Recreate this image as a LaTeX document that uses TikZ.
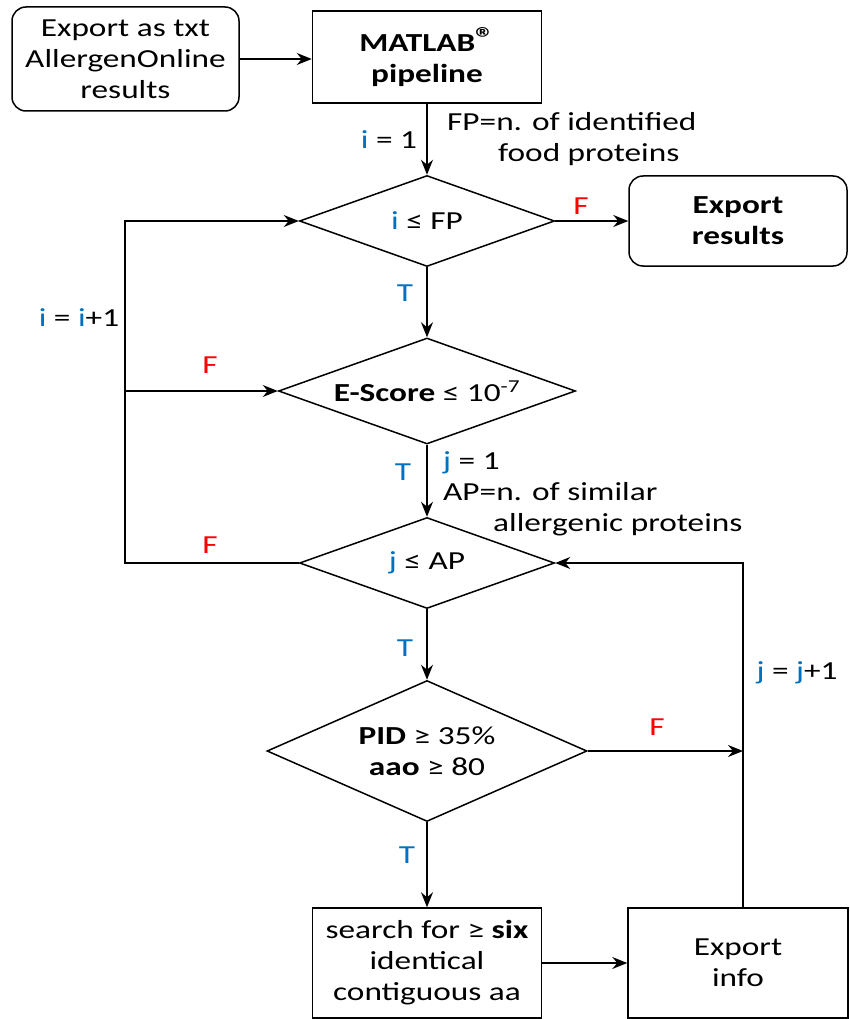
\documentclass[tikz,border=0pt]{standalone}
\usepackage{fontspec}
\setmainfont{Carlito}[FakeStretch=1.28]
\usetikzlibrary{shapes.geometric,arrows.meta}
\definecolor{ivar}{HTML}{0070C0}
\definecolor{fred}{HTML}{FF0000}
\newcommand{\regmark}{\raisebox{3pt}{\fontsize{30}{30}\selectfont ®}}
\begin{document}
\begin{tikzpicture}[x=1pt,y=-1pt,
    every node/.style={font=\fontsize{26}{31}\selectfont,inner sep=0pt},
    proc/.style={draw,rectangle,align=center,line width=1.5pt},
    term/.style={proc,rounded corners=14pt},
    decision/.style={draw,diamond,aspect=2.6,align=center,line width=1.5pt},
    flow/.style={line width=1.5pt,-{Stealth[length=15pt,width=12pt,inset=5pt]}},
    tlab/.style={text=ivar},
    flab/.style={text=fred}]
        \useasboundingbox (0,0) rectangle (849,1019);
        \node[term,minimum width=227,minimum height=104] (src) at (125.5,59) {Export as txt\\AllergenOnline\\results};
        \node[proc,minimum width=229,minimum height=92] (matlab) at (427,57) {\textbf{MATLAB\regmark}\\\textbf{pipeline}};
        \node[decision,minimum width=255,minimum height=91] (dfp) at (427,221) {{\color{ivar}i} ≤ FP};
        \node[term,minimum width=218,minimum height=90] (expres) at (738,221) {\textbf{Export}\\\textbf{results}};
        \node[decision,minimum width=297,minimum height=106] (dscore) at (427,391) {\textbf{E-Score} ≤ 10\textsuperscript{-7}};
        \node[decision,minimum width=255,minimum height=91] (dap) at (427,563) {{\color{ivar}j} ≤ AP};
        \node[decision,minimum width=320,minimum height=141] (dpid) at (427,751) {\textbf{PID} ≥ 35\%\\\textbf{aao} ≥ 80};
        \node[proc,minimum width=229,minimum height=110] (search) at (427,963) {search for ≥ \textbf{six}\\identical\\contiguous aa};
        \node[proc,minimum width=220,minimum height=110] (expinfo) at (738,963) {Export\\info};
        \coordinate (ltop) at (125,221);
        \coordinate (lmid) at (125,391);
        \coordinate (lbot) at (125,563);
        \coordinate (rtop) at (743,563);
        \coordinate (rmid) at (743,751);
        \node (inote) at (389,140) {{\color{ivar}i} = 1};
        \node[anchor=west,align=left] (fpnote) at (447,139) {FP=n. of identified\\\hspace*{51pt}food proteins};
        \node[anchor=west,align=left] (jnote) at (443,494) {{\color{ivar}j} = 1\\AP=n. of similar\\\hspace*{50pt}allergenic proteins};
        \node (iinc) at (79,318) {{\color{ivar}i} = {\color{ivar}i}+1};
        \node (jinc) at (797,673) {{\color{ivar}j} = {\color{ivar}j}+1};
        \node[tlab] (t1) at (405,293) {T};
        \node[tlab] (t2) at (403,472) {T};
        \node[tlab] (t3) at (405,648) {T};
        \node[tlab] (t4) at (407,855) {T};
        \node[flab] (f1) at (581,206) {F};
        \node[flab] (f2) at (210,365) {F};
        \node[flab] (f3) at (210,545) {F};
        \node[flab] (f4) at (657,727) {F};
        \draw[flow] (src.east) -- (src.east -| matlab.west);
        \draw[flow] (matlab) -- (dfp);
        \draw[flow] (dfp) -- (expres);
        \draw[flow] (dfp) -- (dscore);
        \draw[flow] (dscore) -- (dap);
        \draw[flow] (dap) -- (dpid);
        \draw[flow] (dpid) -- (search);
        \draw[flow] (search) -- (expinfo);
        \draw[flow] (dap.west) -- (lbot) -- (ltop) -- (dfp.west);
        \draw[flow] (lmid) -- (dscore.west);
        \draw[flow] (expinfo.north -| rtop) -- (rtop) -- (dap.east);
        \draw[flow] (dpid.east) -- (rmid);
      \end{tikzpicture}
\end{document}
